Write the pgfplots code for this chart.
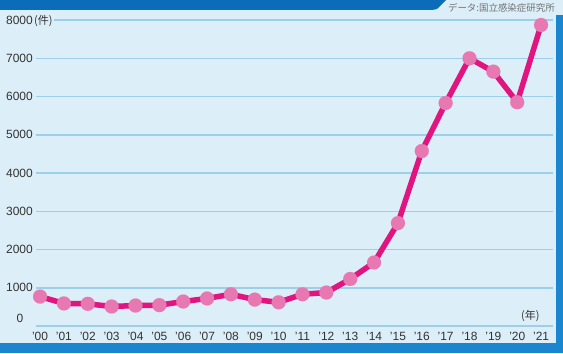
\documentclass[border=0pt]{standalone}
\usepackage{pgfplots}
\pgfplotsset{compat=1.18}
\usepackage{fontspec}
\setmainfont{Liberation Sans}
\newfontfamily\jp{Noto Sans CJK JP}
\definecolor{bg}{HTML}{DCEEF8}
\definecolor{gridc}{HTML}{9BD0E8}
\definecolor{band}{HTML}{0B6DB9}
\definecolor{bandb}{HTML}{1A86CF}
\definecolor{linec}{HTML}{E0157F}
\definecolor{markc}{HTML}{E878B2}
\definecolor{txt}{HTML}{333333}
\begin{document}
\begin{tikzpicture}[x=1bp,y=1bp]
\fill[bg] (0,0) rectangle (563,353);
\fill[band] (0,353) -- (446,353) -- (440,347) .. controls (437,343.5) .. (430,343) -- (0,343) -- cycle;
\fill[bandb] (0,0) rectangle (563,10);
\fill[bandb] (556,0) rectangle (563,338);
\node[anchor=east, text=black!55, inner sep=0pt, font=\jp\fontsize{9.5}{10}\selectfont] at (555,345) {データ:国立感染症研究所};
\begin{axis}[
  at={(36bp,27bp)}, anchor=south west,
  scale only axis, width=517bp, height=306bp,
  xmin=-0.17, xmax=21.5, ymin=0, ymax=8000,
  axis line style={draw=none}, major tick length=0pt,
  ytick={0,1000,...,8000},
  yticklabels={,1000,2000,3000,4000,5000,6000,7000,8000},
  xtick={0,...,21},
  xticklabels={'00,'01,'02,'03,'04,'05,'06,'07,'08,'09,'10,'11,'12,'13,'14,'15,'16,'17,'18,'19,'20,'21},
  ymajorgrids, grid style={gridc, line width=1.5bp},
  tick label style={font=\fontsize{12}{12}\selectfont, text=txt, inner sep=0pt},
  yticklabel style={anchor=east, xshift=-3bp},
  xticklabel style={anchor=north, yshift=-6bp},
  clip=false,
]
\addplot[linec, line width=5.5bp, mark=*, mark size=7bp, mark options={fill=markc, draw=markc, line width=0.1bp}] coordinates {
(0,770)(1,590)(2,580)(3,510)(4,535)(5,545)(6,640)(7,720)(8,830)(9,690)(10,620)(11,830)(12,875)(13,1230)(14,1660)(15,2690)(16,4575)(17,5830)(18,7000)(19,6650)(20,5850)(21,7870)};
\node[text=txt, inner sep=0pt, font=\fontsize{12}{12}\selectfont] at (axis cs:-0.17,0) [xshift=-16bp, yshift=8bp] {0};
\node[anchor=west, fill=bg, text=txt, inner sep=1pt, font=\jp\fontsize{11}{11}\selectfont] at (axis cs:-0.17,8000) [xshift=-3bp, yshift=-1bp] {(件)};
\node[text=txt, inner sep=0pt, font=\jp\fontsize{11}{11}\selectfont] at (axis cs:20.55,260) {(年)};
\end{axis}
\end{tikzpicture}
\end{document}
